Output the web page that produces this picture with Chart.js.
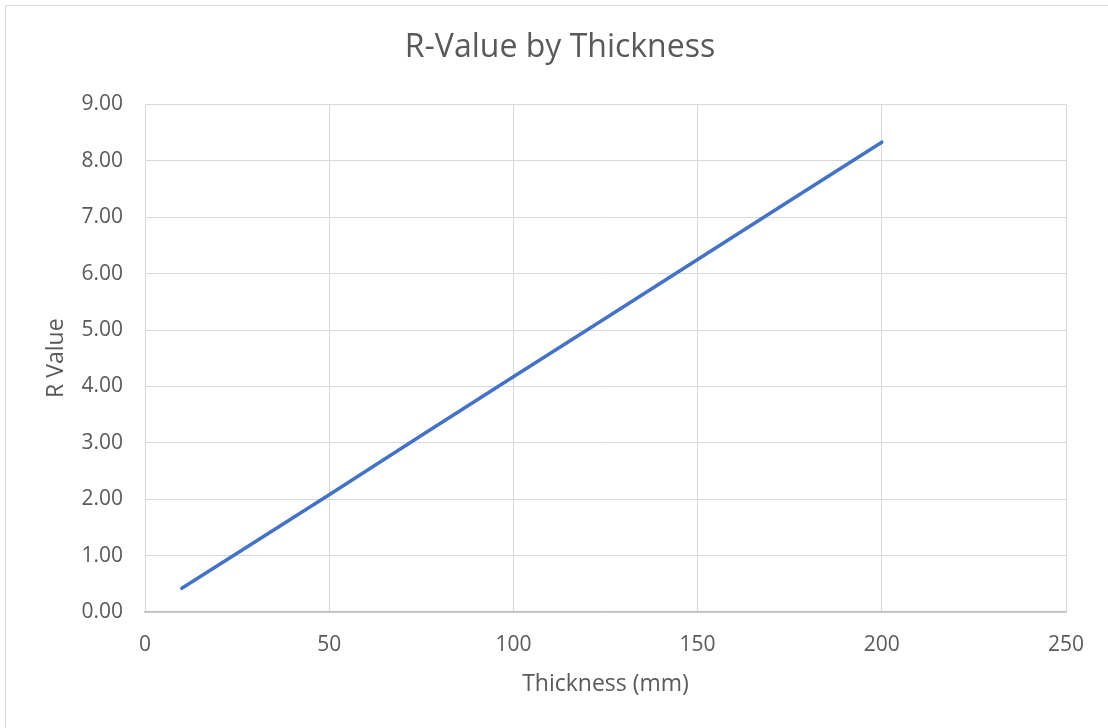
<!DOCTYPE html>
<html>
<head>
<meta charset="utf-8">
<script src="https://cdn.jsdelivr.net/npm/chart.js@4"></script>
<style>
  html, body { margin: 0; padding: 0; background: #fff; }
  #wrap { position: relative; width: 1108px; height: 728px; overflow: hidden; }
  #frame { position: absolute; left: 5px; top: 5px; width: 1120px; height: 740px; border: 1px solid #d9d9d9; box-sizing: border-box; }
  canvas { position: absolute; left: 0; top: 0; }
</style>
</head>
<body>
<div id="wrap">
  <div id="frame"></div>
  <canvas id="myChart" width="1108" height="728"></canvas>
</div>
<script>
'use strict';

// data
const thickness = [10, 25, 50, 75, 100, 125, 150, 175, 200];
const rValues = [0.42, 1.04, 2.08, 3.13, 4.17, 5.21, 6.25, 7.29, 8.33];
const chartTitle = 'R-Value by Thickness';
const xTitle = 'Thickness (mm)';
const yTitle = 'R Value';

const points = [];
for (let i = 0; i < thickness.length; i++) {
  points.push({ x: thickness[i], y: rValues[i] });
}

const fontFamily = "'Open Sans', 'Liberation Sans', sans-serif";
const textGray = '#595959';
const gridGray = '#d9d9d9';

const ctx = document.getElementById('myChart').getContext('2d');
new Chart(ctx, {
  type: 'scatter',
  data: {
    datasets: [
      {
        data: points,
        showLine: true,
        borderColor: '#4472c4',
        borderWidth: 3.5,
        pointRadius: 0,
        pointHoverRadius: 0,
        borderCapStyle: 'round',
      },
    ],
  },
  options: {
    responsive: false,
    animation: false,
    // left padding keeps the title centred like the reference
    layout: { padding: { left: 54, right: 42, top: 0, bottom: 0 } },
    plugins: {
      legend: { display: false },
      tooltip: { enabled: false },
      title: {
        display: true,
        text: chartTitle,
        color: textGray,
        font: { family: fontFamily, size: 32, weight: 'normal' },
        padding: { top: 29, bottom: 37 },
      },
    },
    scales: {
      x: {
        type: 'linear',
        min: 0,
        max: 250,
        ticks: {
          stepSize: 50,
          color: textGray,
          padding: 20,
          font: { family: fontFamily, size: 21 },
        },
        grid: { color: gridGray, lineWidth: 1, drawTicks: false },
        border: { color: '#bfbfbf', width: 1.5 },
        title: {
          display: true,
          text: xTitle,
          color: textGray,
          font: { family: fontFamily, size: 23 },
          padding: { top: 0, bottom: 30 },
        },
        afterFit: function (scale) { scale.height = 116; },
      },
      y: {
        min: 0,
        max: 9,
        ticks: {
          stepSize: 1,
          color: textGray,
          padding: 22,
          font: { family: fontFamily, size: 21 },
          callback: function (v) { return v.toFixed(2); },
        },
        grid: { color: gridGray, lineWidth: 1, drawTicks: false },
        border: { display: false },
        title: {
          display: true,
          text: yTitle,
          color: textGray,
          font: { family: fontFamily, size: 23 },
          padding: { top: -11, bottom: 0 },
        },
        afterFit: function (scale) { scale.width = 91; },
      },
    },
  },
});
</script>
</body>
</html>
